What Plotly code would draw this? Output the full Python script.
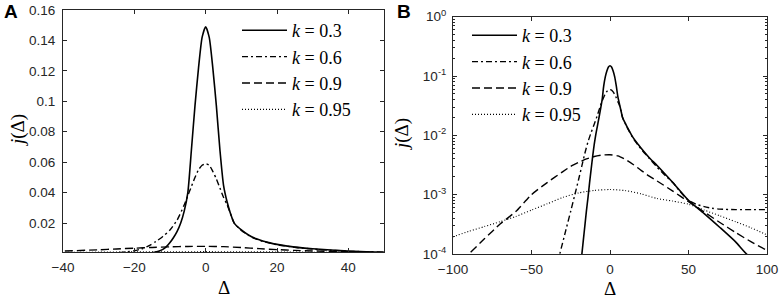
import plotly.graph_objects as go

# ---------------- data ----------------
delta_k03 = [-20, -18, -17, -16, -15, -14, -13, -12, -11, -10, -9, -8, -7, -6, -5, -4, -3, -2, -1, 0,
             1, 2, 3, 4, 5, 6, 7, 8, 10, 12, 14, 16, 18, 20, 25, 30, 40, 50, 60, 70, 80, 87, 100]
j_k03 = [3.5e-5, 9.5e-5, 1.7e-4, 3e-4, 5.4e-4, 9e-4, 1.6e-3, 2.7e-3, 4.5e-3, 7.2e-3, 0.0105, 0.0145,
         0.020, 0.028, 0.040, 0.068, 0.097, 0.122, 0.142, 0.149,
         0.142, 0.122, 0.097, 0.068, 0.045, 0.034, 0.026, 0.020, 0.0155, 0.0122, 0.0098, 0.0082,
         0.0070, 0.0060, 0.0042, 0.0031, 0.0016, 8.0e-4, 4.8e-4, 2.8e-4, 1.6e-4, 1.0e-4, 5.5e-5]

delta_k06 = [-40, -32, -28, -25, -22, -20, -18, -16, -14, -12, -10, -8, -6, -5, -4, -3, -2, -1, 0,
             1, 2, 3, 4, 5, 6, 7, 8, 10, 12, 14, 16, 20, 25, 30, 36, 40, 45, 50, 55, 60, 65, 70, 80, 90, 100]
j_k06 = [1.5e-5, 1.0e-4, 2.6e-4, 5.3e-4, 1.1e-3, 1.8e-3, 3.0e-3, 5.0e-3, 7.8e-3, 0.0112, 0.0155, 0.022,
         0.032, 0.038, 0.044, 0.050, 0.055, 0.058, 0.059,
         0.058, 0.054, 0.049, 0.043, 0.037, 0.032, 0.026, 0.020, 0.0152, 0.0120, 0.0096, 0.0080,
         0.0058, 0.0041, 0.0029, 0.0020, 0.0016, 0.0011, 8.0e-4, 6.9e-4, 6.3e-4, 5.9e-4, 5.7e-4,
         5.6e-4, 5.6e-4, 5.6e-4]

delta_k09 = [-100, -90, -80, -70, -60, -50, -40, -30, -25, -20, -15, -10, -5, 0,
             5, 10, 15, 20, 25, 30, 40, 50, 60, 70, 80, 90, 100]
j_k09 = [5.8e-5, 1.0e-4, 1.8e-4, 3.2e-4, 5.2e-4, 1.0e-3, 1.6e-3, 2.45e-3, 3.0e-3, 3.5e-3, 4.0e-3,
         4.4e-3, 4.65e-3, 4.7e-3,
         4.5e-3, 3.9e-3, 3.2e-3, 2.55e-3, 2.05e-3, 1.7e-3, 1.15e-3, 7.6e-4, 5.1e-4, 3.4e-4,
         2.3e-4, 1.6e-4, 1.15e-4]

delta_k095 = [-100, -90, -80, -70, -60, -50, -40, -30, -20, -10, 0,
              10, 20, 30, 40, 50, 60, 70, 80, 90, 100]
j_k095 = [1.95e-4, 2.4e-4, 2.9e-4, 3.5e-4, 4.3e-4, 5.5e-4, 7.0e-4, 9.0e-4, 1.07e-3, 1.18e-3, 1.22e-3,
          1.17e-3, 1.03e-3, 8.6e-4, 7.8e-4, 6.9e-4, 5.5e-4, 4.4e-4, 3.5e-4, 2.75e-4, 2.1e-4]

legend_labels = ["<i>k</i> = 0.3", "<i>k</i> = 0.6", "<i>k</i> = 0.9", "<i>k</i> = 0.95"]

xticks_a = [-40, -20, 0, 20, 40]
yticks_a = [0.02, 0.04, 0.06, 0.08, 0.1, 0.12, 0.14, 0.16]
yticktext_a = ["0.02", "0.04", "0.06", "0.08", "0.1", "0.12", "0.14", "0.16"]
xticks_b = [-100, -50, 0, 50, 100]
yticks_b = [1e-4, 1e-3, 1e-2, 1e-1, 1]
yticktext_b = ["10<sup>-4</sup>", "10<sup>-3</sup>", "10<sup>-2</sup>", "10<sup>-1</sup>", "10<sup>0</sup>"]

# ---------------- figure ----------------
W, H = 782, 298
series = [(delta_k03, j_k03, "solid", 1.6),
          (delta_k06, j_k06, "6px,3px,2px,3px", 1.4),
          (delta_k09, j_k09, "8px,4px", 1.4),
          (delta_k095, j_k095, "1px,2px", 1.1)]

fig = go.Figure()
for panel, (xa, ya, lg) in enumerate([("x", "y", "legend"), ("x2", "y2", "legend2")]):
    for (dx, jy, dash, w), name in zip(series, legend_labels):
        fig.add_trace(go.Scatter(
            x=dx, y=jy, mode="lines", name=name, xaxis=xa, yaxis=ya, legend=lg,
            line=dict(color="black", width=w, dash=dash, shape="spline", smoothing=0.6),
            showlegend=True, hoverinfo="skip"))

axis_col = "#262626"
tickfont = dict(family="Liberation Sans, Arial, sans-serif", size=13.5, color=axis_col)
common = dict(showline=True, linecolor=axis_col, linewidth=1, mirror="ticks", ticks="inside",
              ticklen=4, tickcolor=axis_col, showgrid=False, zeroline=False, tickfont=tickfont,
              automargin=False)

fig.update_layout(
    template="none",
    width=W, height=H, margin=dict(l=0, r=0, t=0, b=0, autoexpand=False),
    paper_bgcolor="white", plot_bgcolor="white",
    xaxis=dict(domain=[63 / W, 384 / W], range=[-40, 50], tickvals=xticks_a, anchor="y",
               ticklabelstandoff=3, **common),
    yaxis=dict(domain=[1 - 252 / H, 1 - 10 / H], range=[0.001, 0.16], tickvals=yticks_a,
               ticktext=yticktext_a, anchor="x", ticklabelstandoff=4, **common),
    xaxis2=dict(domain=[453 / W, 767 / W], range=[-100, 100], tickvals=xticks_b, anchor="y2",
                ticklabelstandoff=3, **common),
    yaxis2=dict(domain=[1 - 254 / H, 1 - 16.7 / H], type="log", range=[-4, 0], tickvals=yticks_b,
                ticktext=yticktext_b, anchor="x2", ticklabelstandoff=3,
                minor=dict(ticks="inside", ticklen=2, tickcolor=axis_col, dtick="D1"), **common),
    legend=dict(x=237 / W, y=1 - 12 / H, xanchor="left", yanchor="top", bgcolor="rgba(0,0,0,0)",
                font=dict(family="Liberation Serif, serif", size=18, color="black"),
                tracegroupgap=0, itemwidth=45),
    legend2=dict(x=467 / W, y=1 - 17 / H, xanchor="left", yanchor="top", bgcolor="rgba(0,0,0,0)",
                 font=dict(family="Liberation Serif, serif", size=18, color="black"),
                 tracegroupgap=0, itemwidth=45),
)

serif = dict(family="Liberation Serif, serif", size=19, color="black")
bold = dict(family="Liberation Sans, Arial, sans-serif", size=19, color="black")
annotations = [
    dict(text="<b>A</b>", x=2 / W, y=1 - 11 / H, xanchor="left", yanchor="middle", font=bold),
    dict(text="<b>B</b>", x=395 / W, y=1 - 11 / H, xanchor="left", yanchor="middle", font=bold),
    dict(text="Δ", x=223.5 / W, y=1 - 287 / H, xanchor="center", yanchor="middle", font=serif),
    dict(text="Δ", x=610 / W, y=1 - 288 / H, xanchor="center", yanchor="middle", font=serif),
    dict(text="<i>j</i>(Δ)", x=18 / W, y=1 - 131 / H, xanchor="center", yanchor="middle",
         textangle=-90, font=serif),
    dict(text="<i>j</i>(Δ)", x=402 / W, y=1 - 135 / H, xanchor="center", yanchor="middle",
         textangle=-90, font=serif),
]
for a in annotations:
    a.update(xref="paper", yref="paper", showarrow=False)
fig.update_layout(annotations=annotations)

fig.write_html("out.html", config={"displayModeBar": False},
               post_script="document.body.style.margin='0px';document.body.style.overflow='hidden';")
